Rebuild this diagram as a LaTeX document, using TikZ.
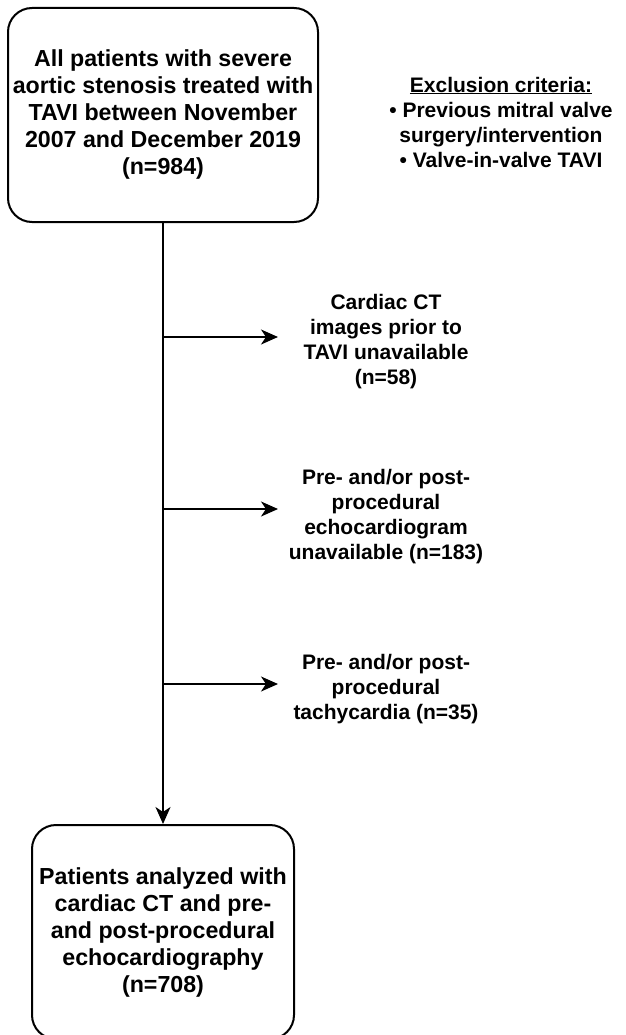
\documentclass[tikz,border=0pt]{standalone}
\usepackage{fontspec}
\setmainfont{Liberation Sans}
\usetikzlibrary{arrows.meta}

\begin{document}
\begin{tikzpicture}[x=1pt,y=-1pt,
		stagebox/.style={draw=black, line width=2pt, rounded corners=24pt, align=center, inner sep=0pt, font=\fontsize{23.2}{27}\selectfont\bfseries},
		sidenote/.style={align=center, inner sep=0pt, font=\fontsize{21}{25}\selectfont\bfseries},
		flow/.style={line width=2pt, -{Stealth[length=17pt,width=15pt,inset=5pt]}}]
		\useasboundingbox (0,0) rectangle (625,1035);
		\node [stagebox, minimum width=310pt, minimum height=214pt] (all) at (163,115) {All patients with severe\\aortic stenosis treated with\\TAVI between November\\2007 and December 2019\\(n=984)};
		\node [sidenote] (excl) at (501,122) {\underline{Exclusion criteria:}\\• Previous mitral valve\\surgery/intervention\\• Valve-in-valve TAVI};
		\node [stagebox, minimum width=262pt, minimum height=214pt] (final) at (163,932) {Patients analyzed with\\cardiac CT and pre-\\and post-procedural\\echocardiography\\(n=708)};
		\coordinate (j1) at (163,337);
		\coordinate (e1) at (278,337);
		\node [sidenote] (noct) at (386,342) {Cardiac CT\\images prior to\\TAVI unavailable\\(n=58)};
		\coordinate (j2) at (163,509);
		\coordinate (e2) at (278,509);
		\node [sidenote] (noecho) at (386,517) {Pre- and/or post-\\procedural\\echocardiogram\\unavailable (n=183)};
		\coordinate (j3) at (163,684);
		\coordinate (e3) at (278,684);
		\node [sidenote] (tachy) at (386,689) {Pre- and/or post-\\procedural\\tachycardia (n=35)};
		\draw [flow] (all.south) -- (final.north);
		\draw [flow] (j1) -- (e1);
		\draw [flow] (j2) -- (e2);
		\draw [flow] (j3) -- (e3);
	\end{tikzpicture}
\end{document}
